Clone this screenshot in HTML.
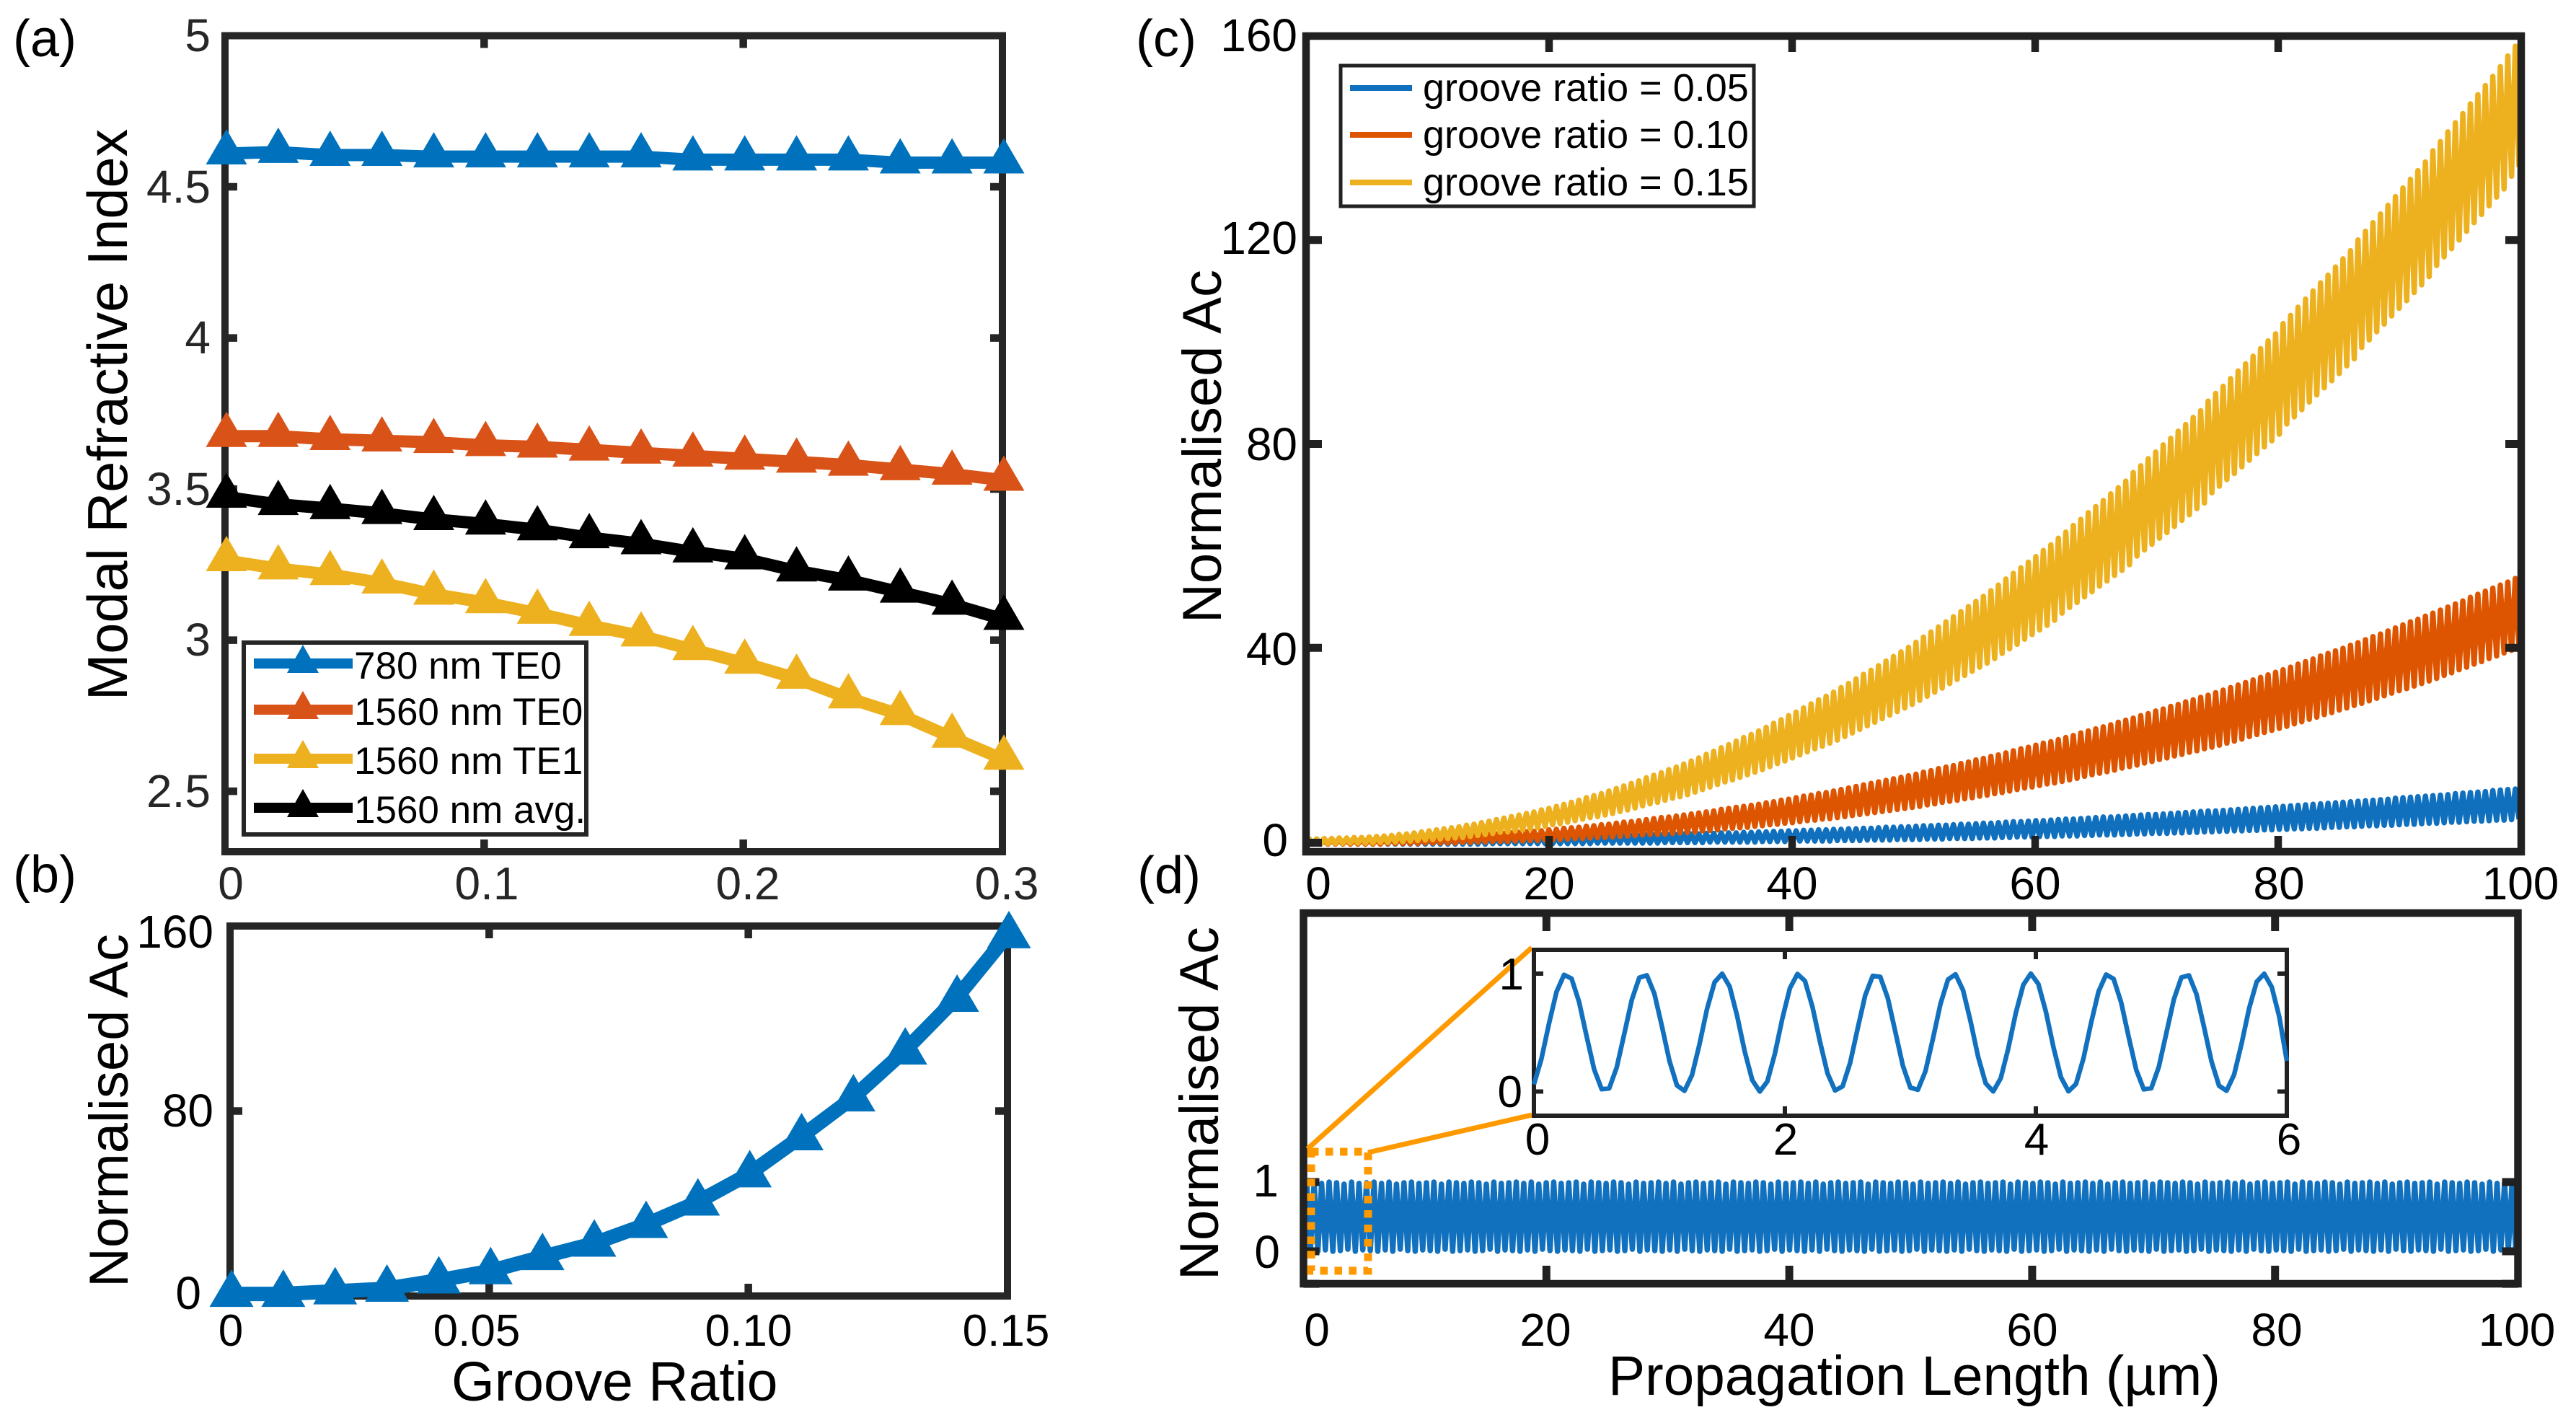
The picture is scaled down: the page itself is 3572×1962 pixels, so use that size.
<!DOCTYPE html>
<html lang="en">
<head>
<meta charset="utf-8">
<title>Modal refractive index and normalised Ac</title>
<style>
html,body{margin:0;padding:0;background:#fff}
svg{display:block}
text{font-family:"Liberation Sans",Arial,sans-serif;fill:#000}
.t{font-size:64px}
.ta{font-size:64px;fill:#262626}
.tb{font-size:62px}
.lg{font-size:53px}
.lc{font-size:54px}
.ax{font-size:77.5px}
.pl{font-size:72px}
.e{text-anchor:end}
.m{text-anchor:middle}
</style>
</head>
<body>
<svg id="fig" xmlns="http://www.w3.org/2000/svg" width="3572" height="1962" viewBox="0 0 3572 1962">
<rect x="0" y="0" width="3572" height="1962" fill="#fff"/>

<text class="pl" x="18" y="78">(a)</text>
<text class="pl" x="18" y="1237">(b)</text>
<text class="pl" x="1575" y="78">(c)</text>
<text class="pl" x="1577" y="1238">(d)</text>

<g id="panelA"></g>
<rect x="338" y="891" width="475" height="266" fill="#fff" stroke="#262626" stroke-width="6"/>
<g>
  <g><line x1="352" x2="489" y1="920" y2="920" stroke="#0072BD" stroke-width="14"/><polygon points="420,894 442,933 398,933" fill="#0072BD"/><text class="lg" x="491" y="941">780 nm TE0</text></g>
  <g><line x1="352" x2="489" y1="984" y2="984" stroke="#D95319" stroke-width="14"/><polygon points="420,958 442,997 398,997" fill="#D95319"/><text class="lg" x="491" y="1005">1560 nm TE0</text></g>
  <g><line x1="352" x2="489" y1="1052" y2="1052" stroke="#EDB120" stroke-width="14"/><polygon points="420,1026 442,1065 398,1065" fill="#EDB120"/><text class="lg" x="491" y="1073">1560 nm TE1</text></g>
  <g><line x1="352" x2="489" y1="1120" y2="1120" stroke="#000" stroke-width="14"/><polygon points="420,1094 442,1133 398,1133" fill="#000"/><text class="lg" x="491" y="1141">1560 nm avg.</text></g>
</g>
<g>
  <text class="ta e" x="292" y="71">5</text><text class="ta e" x="292" y="281">4.5</text><text class="ta e" x="292" y="490">4</text><text class="ta e" x="292" y="700">3.5</text><text class="ta e" x="292" y="909">3</text><text class="ta e" x="292" y="1119">2.5</text>
</g>
<g>
  <text class="ta m" x="320" y="1247">0</text><text class="ta m" x="675" y="1247">0.1</text><text class="ta m" x="1037" y="1247">0.2</text><text class="ta m" x="1396" y="1247">0.3</text>
</g>
<text class="ax m" transform="translate(176,575) rotate(-90)">Modal Refractive Index</text>

<g id="panelB"></g>
<g>
  <text class="t e" x="296" y="1314">160</text><text class="t e" x="296" y="1562">80</text><text class="t e" x="279" y="1815">0</text>
</g>
<g>
  <text class="tb m" x="320" y="1866">0</text><text class="tb m" x="661" y="1866">0.05</text><text class="tb m" x="1038" y="1866">0.10</text><text class="tb m" x="1395" y="1866">0.15</text>
</g>
<text class="ax m" style="font-size:76px" transform="translate(177,1540) rotate(-90)">Normalised Ac</text>
<text class="ax" style="font-size:76.8px" x="626" y="1942">Groove Ratio</text>

<g id="panelC"></g>
<rect x="1859" y="91" width="573" height="195" fill="#fff" stroke="#212121" stroke-width="5"/>
<g>
  <g><line x1="1872" x2="1958" y1="122" y2="122" stroke="#1070BE" stroke-width="8"/><text class="lc" x="1973" y="140">groove ratio = 0.05</text></g>
  <g><line x1="1872" x2="1958" y1="187" y2="187" stroke="#DD5500" stroke-width="8"/><text class="lc" x="1973" y="205">groove ratio = 0.10</text></g>
  <g><line x1="1872" x2="1958" y1="253" y2="253" stroke="#EDB120" stroke-width="8"/><text class="lc" x="1973" y="271">groove ratio = 0.15</text></g>
</g>
<g>
  <text class="t e" x="1799" y="71">160</text><text class="t e" x="1799" y="352">120</text><text class="t e" x="1799" y="638">80</text><text class="t e" x="1799" y="922">40</text><text class="t e" x="1786" y="1187">0</text>
</g>
<g>
  <text class="t m" x="1828" y="1247">0</text><text class="t m" x="2148" y="1247">20</text><text class="t m" x="2485" y="1247">40</text><text class="t m" x="2822" y="1247">60</text><text class="t m" x="3160" y="1247">80</text><text class="t m" x="3495" y="1247">100</text>
</g>
<text class="ax m" style="font-size:76px" transform="translate(1693,619) rotate(-90)">Normalised Ac</text>

<g id="panelD"></g>
<g>
  <text class="t e" x="1773" y="1659">1</text><text class="t e" x="1775" y="1758">0</text>
</g>
<g>
  <text class="t m" x="1826" y="1866">0</text><text class="t m" x="2143" y="1866">20</text><text class="t m" x="2481" y="1866">40</text><text class="t m" x="2818" y="1866">60</text><text class="t m" x="3157" y="1866">80</text><text class="t m" x="3490" y="1866">100</text>
</g>
<text class="ax m" style="font-size:76px" transform="translate(1689,1530) rotate(-90)">Normalised Ac</text>
<text class="ax" style="font-size:76.6px" x="2230" y="1934">Propagation Length (µm)</text>

<line x1="1813" y1="1593" x2="2124" y2="1314" stroke="#FF9900" stroke-width="7"/>
<line x1="1897" y1="1598" x2="2124" y2="1546" stroke="#FF9900" stroke-width="7"/>
<rect x="1818" y="1597" width="79" height="165" fill="none" stroke="#FF9900" stroke-width="11" stroke-dasharray="10.5 9.5"/>
<g id="inset"></g>
<g>
  <text class="tb e" x="2113" y="1372">1</text><text class="tb e" x="2111" y="1535">0</text>
</g>
<g>
  <text class="tb m" x="2132" y="1601">0</text><text class="tb m" x="2476" y="1601">2</text><text class="tb m" x="2824" y="1601">4</text><text class="tb m" x="3174" y="1601">6</text>
</g>
</svg>

<script>
// ---------- Panel (a) data ----------
const aGroove = [0,0.02,0.04,0.06,0.08,0.10,0.12,0.14,0.16,0.18,0.20,0.22,0.24,0.26,0.28,0.30];
const aTE0780 = [4.61,4.615,4.605,4.605,4.60,4.60,4.60,4.60,4.60,4.59,4.59,4.59,4.59,4.58,4.58,4.58];
const aTE01560 = [3.675,3.675,3.665,3.66,3.655,3.645,3.64,3.63,3.62,3.61,3.60,3.59,3.58,3.565,3.55,3.53];
const aTE11560 = [3.264,3.237,3.218,3.19,3.153,3.125,3.09,3.05,3.015,2.97,2.925,2.875,2.81,2.755,2.68,2.607];
const aAvg1560 = [3.474,3.45,3.436,3.42,3.40,3.385,3.366,3.34,3.32,3.293,3.27,3.23,3.20,3.16,3.12,3.07];
const aXTicks = [0.1,0.2];
const aYTicks = [2.5,3,3.5,4,4.5];

// ---------- Panel (b) data ----------
const bGroove = [0,0.01,0.02,0.03,0.04,0.05,0.06,0.07,0.08,0.09,0.10,0.11,0.12,0.13,0.14,0.15];
const bAc = [0.9,0.9,2,3.1,6.7,10.7,16.8,22.6,30.7,40.4,52.6,68.6,85.4,105.7,128.5,156];
const bXTicks = [0.05,0.10];
const bYTicks = [80];

// ---------- Panel (c) data: one peak and one trough per fringe ----------
const fringePeriod = 0.6165;
const cPeaks015 = [2.5,2.5,2.6,2.6,2.7,2.7,2.8,2.8,2.9,3.0,3.1,3.2,3.4,3.5,3.7,3.9,4.1,4.3,4.5,4.7,4.9,5.2,5.4,5.7,6.0,6.3,6.6,6.9,7.2,7.5,7.8,8.2,8.5,8.9,9.3,9.7,10.1,10.6,11.0,11.4,11.9,12.4,12.9,13.4,13.9,14.5,15.0,15.5,16.1,16.6,17.2,17.8,18.4,19.1,19.7,20.4,21.0,21.7,22.4,23.0,23.7,24.4,25.2,25.9,26.7,27.4,28.2,29.0,29.8,30.5,31.3,32.2,33.0,33.9,34.8,35.6,36.5,37.4,38.3,39.2,40.1,41.1,42.1,43.1,44.1,45.1,46.1,47.1,48.1,49.1,50.1,51.2,52.3,53.5,54.6,55.7,56.8,57.9,59.1,60.2,61.5,62.7,64.0,65.2,66.5,67.7,68.9,70.2,71.4,72.7,74.4,75.7,77.1,78.4,79.8,81.1,82.5,83.8,85.2,86.5,88.4,89.9,91.3,92.8,94.3,95.7,97.2,98.7,100.2,101.6,103.6,105.2,106.8,108.4,110,111.6,113.1,114.7,116.3,117.9,120,121.7,123.4,125.1,126.8,128.5,130.2,131.9,133.6,135.3,137.5,139.3,141.2,143,144.8,146.7,148.5,150.3,152.1,154,156.1,158,160];
const cTroughs015 = [1.5,1.5,1.6,1.6,1.6,1.7,1.7,1.7,1.7,1.8,1.8,1.9,2,2.1,2.2,2.3,2.4,2.5,2.6,2.7,2.8,3,3.2,3.4,3.6,3.8,3.9,4.1,4.3,4.5,4.7,5,5.3,5.5,5.8,6.1,6.4,6.7,6.9,7.2,7.5,7.9,8.2,8.6,9,9.4,9.7,10.1,10.5,10.8,11.2,11.7,12.2,12.7,13.2,13.7,14.1,14.6,15.1,15.6,16.1,16.7,17.3,17.8,18.4,19,19.6,20.2,20.7,21.3,21.9,22.6,23.3,24,24.7,25.4,26.1,26.8,27.5,28.2,28.9,29.7,30.5,31.3,32.1,33,33.8,34.6,35.4,36.2,37,37.9,38.9,39.8,40.7,41.7,42.6,43.5,44.4,45.4,46.8,47.9,48.9,50,51,52.1,53.1,54.2,55.2,56.3,58,59.2,60.3,61.5,62.6,63.8,65,66.1,67.3,68.4,70.4,71.7,73,74.2,75.5,76.8,78.1,79.4,80.6,81.9,83.9,85.3,86.7,88.2,89.6,91,92.4,93.8,95.3,96.7,98.9,100.4,102,103.5,105.1,106.6,108.1,109.7,111.2,112.8,115,116.7,118.3,120,121.7,123.4,125,126.7,128.4,130,132.5,134.3,136];
const cPeaks010 = [2.2,2.2,2.2,2.3,2.3,2.3,2.3,2.3,2.3,2.4,2.4,2.5,2.5,2.6,2.6,2.7,2.8,2.8,2.9,2.9,3,3.1,3.2,3.3,3.4,3.5,3.6,3.7,3.8,3.9,4,4.1,4.3,4.4,4.6,4.7,4.8,5,5.1,5.3,5.4,5.6,5.8,5.9,6.1,6.3,6.5,6.7,6.8,7,7.2,7.4,7.6,7.8,8,8.3,8.5,8.7,8.9,9.1,9.3,9.6,9.8,10.1,10.3,10.6,10.9,11.1,11.4,11.6,11.9,12.2,12.5,12.8,13.1,13.4,13.7,14,14.3,14.6,14.9,15.2,15.6,15.9,16.3,16.6,16.9,17.3,17.6,18,18.3,18.7,19,19.4,19.8,20.2,20.5,20.9,21.3,21.6,22,22.4,22.8,23.3,23.7,24.1,24.5,24.9,25.4,25.8,26.2,26.7,27.1,27.6,28,28.5,28.9,29.4,29.8,30.3,30.7,31.2,31.7,32.2,32.7,33.2,33.7,34.2,34.7,35.2,35.7,36.2,36.8,37.3,37.8,38.4,38.9,39.4,39.9,40.5,41,41.6,42.2,42.7,43.3,43.9,44.5,45.1,45.6,46.2,46.8,47.4,48,48.6,49.2,49.9,50.5,51.1,51.7,52.3,52.9,53.6,54.3];
const cTroughs010 = [1.5,1.5,1.5,1.5,1.5,1.5,1.5,1.5,1.5,1.5,1.6,1.6,1.6,1.6,1.6,1.7,1.7,1.7,1.7,1.7,1.8,1.8,1.9,1.9,2,2,2,2.1,2.1,2.2,2.2,2.3,2.3,2.4,2.5,2.6,2.6,2.7,2.8,2.8,2.9,3,3.1,3.2,3.3,3.4,3.4,3.5,3.6,3.7,3.8,3.9,4.1,4.2,4.3,4.5,4.6,4.7,4.8,5,5.1,5.3,5.4,5.6,5.7,5.9,6.1,6.2,6.4,6.5,6.7,6.9,7.1,7.3,7.5,7.7,7.9,8.1,8.3,8.5,8.7,8.9,9.2,9.4,9.7,9.9,10.1,10.4,10.6,10.9,11.1,11.4,11.6,11.9,12.2,12.5,12.7,13,13.3,13.5,13.8,14.1,14.4,14.8,15.1,15.4,15.7,16,16.4,16.7,17,17.4,17.7,18.1,18.4,18.8,19.1,19.5,19.8,20.2,20.5,20.9,21.3,21.7,22.1,22.6,23,23.4,23.8,24.2,24.6,25.1,25.5,26,26.4,26.9,27.3,27.8,28.2,28.7,29.1,29.6,30.1,30.6,31.1,31.6,32,32.5,33,33.5,34,34.6,35.1,35.7,36.2,36.8,37.3,37.9,38.4,39,39.5,40.1,40.7];
const cPeaks005 = [2.5,2.5,2.5,2.5,2.5,2.5,2.5,2.5,2.5,2.5,2.5,2.5,2.6,2.6,2.6,2.6,2.6,2.6,2.6,2.6,2.7,2.7,2.7,2.7,2.7,2.7,2.7,2.8,2.8,2.8,2.8,2.9,2.9,2.9,2.9,3,3,3,3,3.1,3.1,3.1,3.2,3.2,3.2,3.3,3.3,3.3,3.4,3.4,3.5,3.5,3.5,3.6,3.6,3.7,3.7,3.7,3.8,3.8,3.9,3.9,4,4,4.1,4.1,4.2,4.2,4.3,4.3,4.4,4.4,4.5,4.5,4.6,4.6,4.7,4.8,4.8,4.9,4.9,5,5.1,5.1,5.2,5.2,5.3,5.4,5.4,5.5,5.6,5.6,5.7,5.8,5.9,5.9,6,6.1,6.1,6.2,6.3,6.4,6.4,6.5,6.6,6.7,6.8,6.8,6.9,7,7.1,7.2,7.3,7.3,7.4,7.5,7.6,7.7,7.8,7.9,8,8,8.1,8.2,8.3,8.4,8.5,8.6,8.7,8.8,8.9,9,9.1,9.2,9.3,9.4,9.5,9.6,9.7,9.8,9.9,10,10.1,10.2,10.3,10.5,10.6,10.7,10.8,10.9,11,11.1,11.2,11.4,11.5,11.6,11.7,11.8,12,12.1,12.2,12.3,12.4];
const cTroughs005 = [1.5,1.5,1.5,1.5,1.5,1.5,1.5,1.5,1.5,1.5,1.5,1.5,1.5,1.5,1.5,1.5,1.5,1.5,1.5,1.5,1.5,1.5,1.5,1.5,1.6,1.6,1.6,1.6,1.6,1.6,1.6,1.6,1.6,1.6,1.6,1.6,1.6,1.6,1.7,1.7,1.7,1.7,1.7,1.7,1.7,1.7,1.7,1.8,1.8,1.8,1.8,1.8,1.8,1.9,1.9,1.9,1.9,1.9,1.9,1.9,2,2,2,2,2,2.1,2.1,2.1,2.1,2.1,2.2,2.2,2.2,2.2,2.3,2.3,2.3,2.3,2.4,2.4,2.4,2.4,2.5,2.5,2.5,2.6,2.6,2.6,2.6,2.7,2.7,2.7,2.8,2.8,2.9,2.9,2.9,3,3,3,3.1,3.1,3.1,3.2,3.2,3.3,3.3,3.3,3.4,3.4,3.5,3.5,3.6,3.6,3.6,3.7,3.7,3.8,3.8,3.9,3.9,4,4,4.1,4.1,4.2,4.2,4.3,4.3,4.4,4.4,4.5,4.5,4.6,4.6,4.7,4.8,4.8,4.9,4.9,5,5.1,5.1,5.2,5.2,5.3,5.4,5.4,5.5,5.6,5.6,5.7,5.8,5.8,5.9,6,6,6.1,6.2,6.2,6.3,6.4,6.5];
const cXTicks = [20,40,60,80];
const cYTicksLeft = [1.77,40,80,120];
const cYTicksRight = [40,80,120];

// ---------- Panel (d) data ----------
const dPeaks = [1,.99,.98,1,.99,.97,1,.98,.99,1,.98,1,.97,.99,1,.98,.99,1,.97,1,.99,.98,1,.99,.97,1,.98,.99,1,.98,1,.97,.99,1,.98,.99,1,.97,1,.99,.98,1,.99,.97,1,.98,.99,1,.98,1,.97,.99,1,.98,.99,1,.97,1,.99,.98,1,.99,.97,1,.98,.99,1,.98,1,.97,.99,1,.98,.99,1,.97,1,.99,.98,1,.99,.97,1,.98,.99,1,.98,1,.97,.99,1,.98,.99,1,.97,1,.99,.98,1,.99,.97,1,.98,.99,1,.98,1,.97,.99,1,.98,.99,1,.97,1,.99,.98,1,.99,.97,1,.98,.99,1,.98,1,.97,.99,1,.98,.99,1,.97,1,.99,.98,1,.99,.97,1,.98,.99,1,.98,1,.97,.99,1,.98,.99,1,.97,1,.99,.98,1,.99,.97,1,.98,.99,1,.98,1,.97,.99];
const dTroughs = [.01,0,.02,0,.01,.03,0,.02,.01,0,.02,0,.03,.01,0,.02,.01,0,.03,0,.01,.02,0,.01,.03,0,.02,.01,0,.02,0,.03,.01,0,.02,.01,0,.03,0,.01,.02,0,.01,.03,0,.02,.01,0,.02,0,.03,.01,0,.02,.01,0,.03,0,.01,.02,0,.01,.03,0,.02,.01,0,.02,0,.03,.01,0,.02,.01,0,.03,0,.01,.02,0,.01,.03,0,.02,.01,0,.02,0,.03,.01,0,.02,.01,0,.03,0,.01,.02,0,.01,.03,0,.02,.01,0,.02,0,.03,.01,0,.02,.01,0,.03,0,.01,.02,0,.01,.03,0,.02,.01,0,.02,0,.03,.01,0,.02,.01,0,.03,0,.01,.02,0,.01,.03,0,.02,.01,0,.02,0,.03,.01,0,.02,.01,0,.03,0,.01,.02,0,.01,.03,0,.02,.01,0,.02,0,.03,.01];
const dXTicks = [20,40,60,80];
const dYTicks = [-0.47,0,1];

// ---------- Inset data: sampled every 0.06 µm ----------
const insetStep = 0.06;
const insetValues = [.061,.278,.575,.845,.990,.958,.760,.468,.188,.020,.027,.205,.489,.778,.966,.986,.830,.554,.260,.052,.006,.140,.403,.702,.928,.999,.890,.639,.339,.097,.000,.085,.320,.620,.877,.997,.938,.717,.422,.153,.009,.044,.243,.535,.815,.981,.973,.793,.508,.220,.033,.015,.172,.449,.743,.950,.994,.859,.594,.295,.070,.001,.112,.364,.665,.905,1.0,.912,.677,.377,.121,.002,.064,.283,.581,.849,.992,.955,.755,.462,.184,.019,.028,.209,.495,.782,.968,.985,.826,.548,.255,.049,.007,.143,.408,.707,.931,.999,.886,.634,.26];
const insetXTicks = [2,4];
const insetYTicks = [0,1];

// ---------- Axis functions ----------
const aX = v => 312 + v * (1390 - 312) / 0.3;
const aY = v => 49.5 + (5 - v) * (1181 - 49.5) / 2.7;
const bX = v => 319 + v * (1397 - 319) / 0.15;
const bY = v => 1797 - v * (1797 - 1284) / 160;
const cX = v => 1811 + v * (3496 - 1811) / 100;
const cY = v => 1181 - v * (1181 - 50) / 160;
const dX = v => 1807.5 + v * (3491.5 - 1807.5) / 100;
const dY = v => 1735 - v * 96;
const iX = v => 2127 + v * (3171 - 2127) / 6;
const iY = v => 1513.5 - v * 163.5;

const NS = 'http://www.w3.org/2000/svg';
function el(parent, tag, attrs, name) {
  const node = document.createElementNS(NS, tag);
  for (const k in attrs) node.setAttribute(k, attrs[k]);
  
  
  parent.appendChild(node);
  return node;
}
function ticksX(parent, values, scale, top, bottom, len, w, color, label) {
  values.forEach(v => {
    const x = scale(v);
    el(parent, 'line', {x1: x, x2: x, y1: top, y2: top + len, stroke: color, 'stroke-width': w}, label + '-x-tick-top');
    el(parent, 'line', {x1: x, x2: x, y1: bottom, y2: bottom - len, stroke: color, 'stroke-width': w}, label + '-x-tick-bottom');
  });
}
function ticksY(parent, values, scale, edge, dir, len, w, color, label) {
  values.forEach(v => {
    const y = scale(v);
    el(parent, 'line', {x1: edge, x2: edge + dir * len, y1: y, y2: y, stroke: color, 'stroke-width': w}, label + '-y-tick');
  });
}
function frame(parent, x, y, w, h, sw, color, label, fill) {
  el(parent, 'rect', {x: x, y: y, width: w, height: h, fill: fill || 'none', stroke: color, 'stroke-width': sw}, label + '-frame');
}
function markerSeries(parent, xs, ys, sx, sy, color, lw, up, down, half, label) {
  const pts = xs.map((x, i) => sx(x) + ',' + sy(ys[i])).join(' ');
  el(parent, 'polyline', {points: pts, fill: 'none', stroke: color, 'stroke-width': lw, 'stroke-linejoin': 'miter'}, label + '-line');
  xs.forEach((x, i) => {
    const px = sx(x) + 2, py = sy(ys[i]);
    el(parent, 'polygon', {points: px + ',' + (py - up) + ' ' + (px + half) + ',' + (py + down) + ' ' + (px - half) + ',' + (py + down), fill: color}, label + '-marker');
  });
}
function fringeSeries(parent, peaks, troughs, sx, sy, color, lw, label) {
  const pts = [sx(0) + ',' + sy(troughs[0])];
  peaks.forEach((p, i) => {
    const px = (i + 0.42) * fringePeriod;
    if (px <= 100) pts.push(sx(px) + ',' + sy(p));
    const tx = (i + 0.92) * fringePeriod;
    if (tx <= 100) pts.push(sx(tx) + ',' + sy(troughs[i]));
  });
  el(parent, 'polyline', {points: pts.join(' '), fill: 'none', stroke: color, 'stroke-width': lw, 'stroke-linejoin': 'round'}, label);
}

// ---------- Panel (a) ----------
const pa = document.getElementById('panelA');
frame(pa, 312, 49.5, 1078, 1131.5, 10, '#262626', 'panel-a');
ticksX(pa, aXTicks, aX, 49.5, 1181, 17, 10.5, '#262626', 'panel-a');
ticksY(pa, aYTicks, aY, 312, 1, 17, 10.5, '#262626', 'panel-a-left');
ticksY(pa, aYTicks, aY, 1390, -1, 17, 10.5, '#262626', 'panel-a-right');
markerSeries(pa, aGroove, aTE0780, aX, aY, '#0072BD', 17, 34, 15, 28.5, 'series-780-te0');
markerSeries(pa, aGroove, aTE01560, aX, aY, '#D95319', 17, 34, 15, 28.5, 'series-1560-te0');
markerSeries(pa, aGroove, aTE11560, aX, aY, '#EDB120', 17, 34, 15, 28.5, 'series-1560-te1');
markerSeries(pa, aGroove, aAvg1560, aX, aY, '#000000', 17, 34, 15, 28.5, 'series-1560-avg');

// ---------- Panel (b) ----------
const pb = document.getElementById('panelB');
frame(pb, 319, 1284, 1078, 513, 10, '#262626', 'panel-b');
ticksX(pb, bXTicks, bX, 1284, 1797, 17, 10.5, '#262626', 'panel-b');
ticksY(pb, bYTicks, bY, 319, 1, 17, 10.5, '#262626', 'panel-b-left');
ticksY(pb, bYTicks, bY, 1397, -1, 17, 10.5, '#262626', 'panel-b-right');
markerSeries(pb, bGroove, bAc, bX, bY, '#0072BD', 20, 34, 18, 30.5, 'series-normalised-ac');

// ---------- Panel (c) ----------
const pc = document.getElementById('panelC');
fringeSeries(pc, cPeaks005, cTroughs005, cX, cY, '#1070BE', 7.5, 'series-groove-005');
fringeSeries(pc, cPeaks010, cTroughs010, cX, cY, '#DD5500', 7.5, 'series-groove-010');
fringeSeries(pc, cPeaks015, cTroughs015, cX, cY, '#EDB120', 7.5, 'series-groove-015');
frame(pc, 1811, 50, 1685, 1131, 10.5, '#212121', 'panel-c');
ticksX(pc, cXTicks, cX, 50, 1181, 22, 10.5, '#212121', 'panel-c');
ticksY(pc, cYTicksLeft, cY, 1811, 1, 22, 11, '#212121', 'panel-c-left');
ticksY(pc, cYTicksRight, cY, 3496, -1, 22, 11, '#212121', 'panel-c-right');

// ---------- Panel (d) ----------
const pd = document.getElementById('panelD');
fringeSeries(pd, dPeaks, dTroughs, dX, dY, '#1271BE', 7.5, 'series-normalised-ac-trace');
frame(pd, 1807.5, 1266, 1684, 514, 10.5, '#212121', 'panel-d');
ticksX(pd, dXTicks, dX, 1266, 1780, 25, 11, '#212121', 'panel-d');
ticksY(pd, dYTicks, dY, 1807.5, 1, 22, 11, '#212121', 'panel-d-left');
ticksY(pd, dYTicks, dY, 3491.5, -1, 22, 11, '#212121', 'panel-d-right');

// ---------- Inset ----------
const pi = document.getElementById('inset');
frame(pi, 2127, 1317, 1044, 230, 6, '#212121', 'inset', '#fff');
ticksX(pi, insetXTicks, iX, 1317, 1547, 13, 6, '#212121', 'inset');
ticksY(pi, insetYTicks, iY, 2127, 1, 13, 6, '#212121', 'inset-left');
ticksY(pi, insetYTicks, iY, 3171, -1, 13, 6, '#212121', 'inset-right');
el(pi, 'polyline', {points: insetValues.map((v, i) => iX(i * insetStep) + ',' + iY(v)).join(' '), fill: 'none', stroke: '#1271BE', 'stroke-width': 6.5, 'stroke-linejoin': 'round'}, 'inset-trace');
</script>
</body>
</html>
